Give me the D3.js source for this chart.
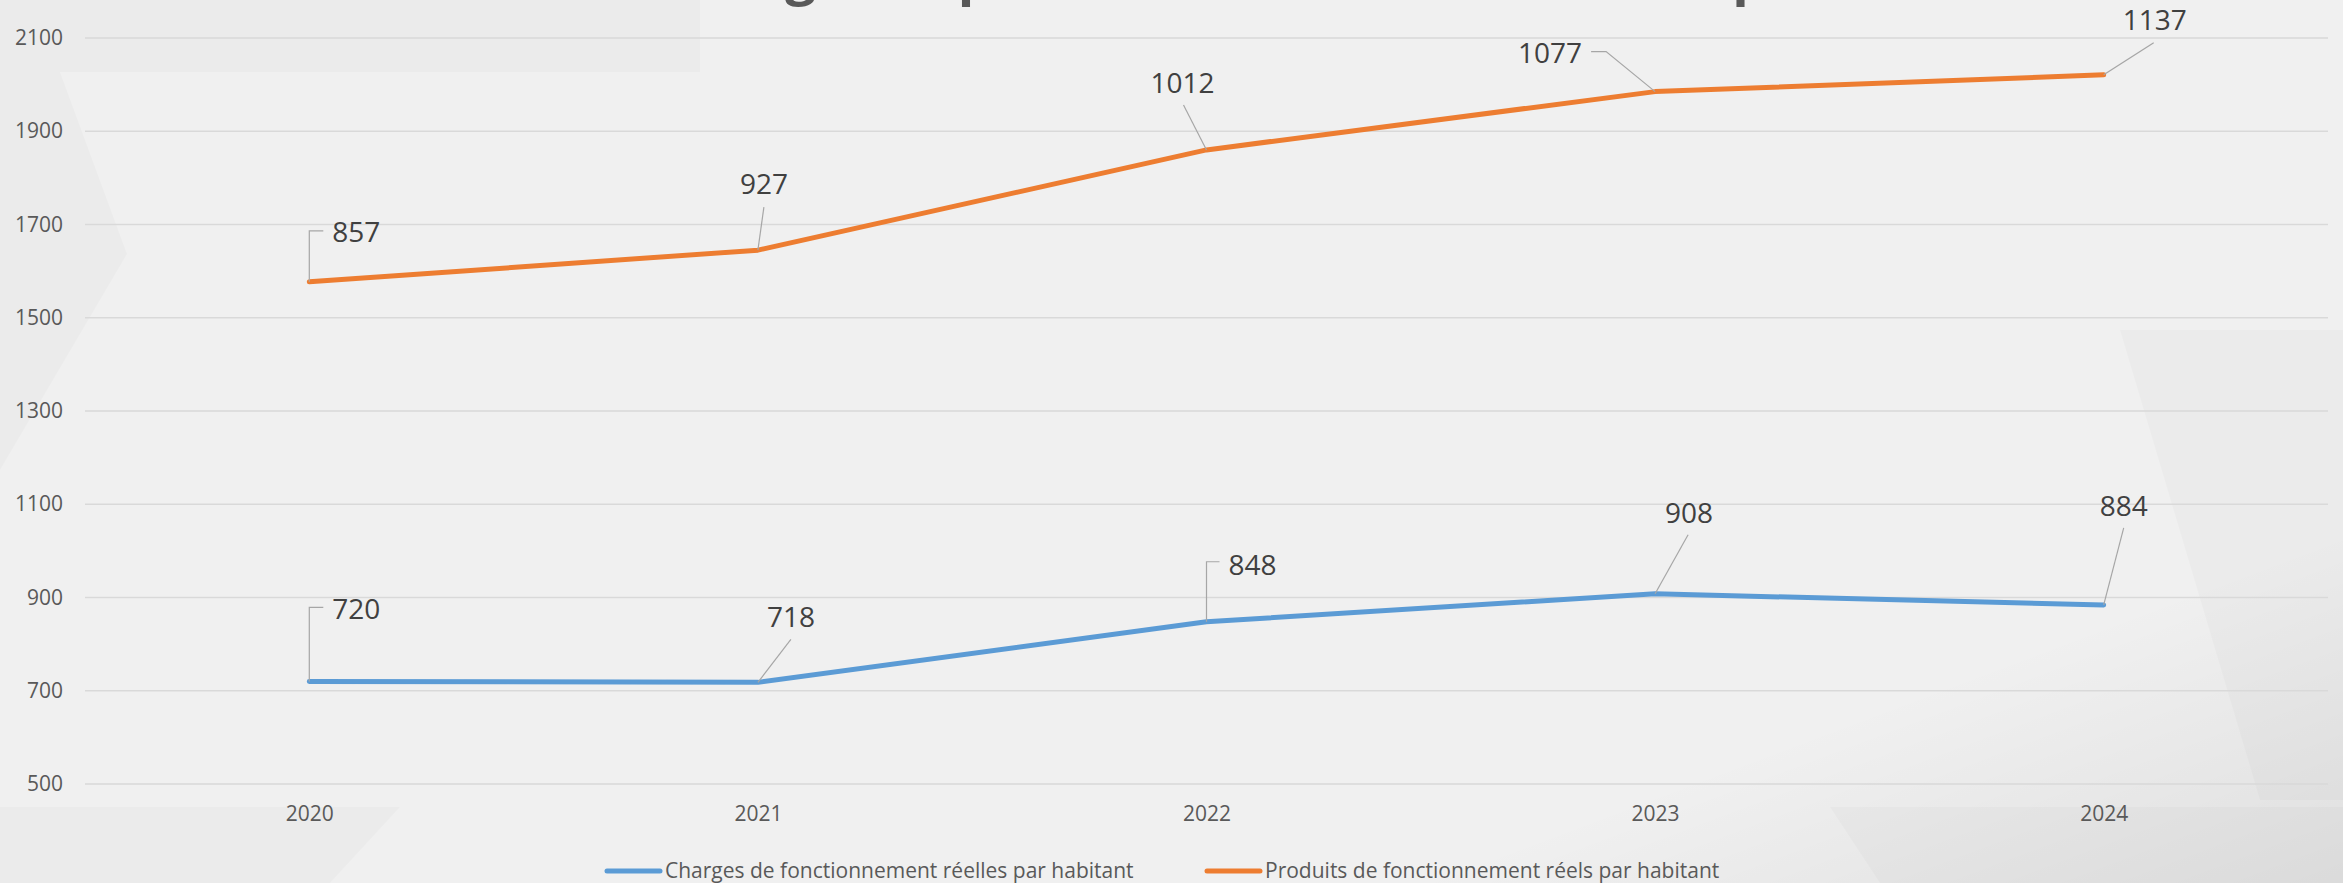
<!DOCTYPE html>
<html>
<head>
<meta charset="utf-8">
<script src="https://cdn.jsdelivr.net/npm/d3@7"></script>
<style>
  html, body { margin: 0; padding: 0; background: #efefef; }
  svg { display: block; font-family: 'Open Sans', sans-serif; }
</style>
</head>
<body>
<svg id="chart" width="2343" height="883"></svg>
<script>
// data
const years = ['2020', '2021', '2022', '2023', '2024'];
const charges = [720, 718, 848, 908, 884];
const produits = [857, 927, 1012, 1077, 1137];
const yTicks = [500, 700, 900, 1100, 1300, 1500, 1700, 1900, 2100];
const seriesNames = [
  'Charges de fonctionnement réelles par habitant',
  'Produits de fonctionnement réels par habitant'
];
const titleText = 'Évolution des charges et produits de fonctionnement par habitant';

const colors = ['#5b9bd5', '#ed7d31'];

// where each data label sits relative to its point (label centre, leader polyline)
const nudges = [
  [ // charges
    { dx: 23, dy: -73, anchor: 'start', leader: [[0, 0], [0, -74], [14, -74]] },
    { dx: 33, dy: -65, anchor: 'middle', leader: [[0, 0], [33, -43]] },
    { dx: 22, dy: -57, anchor: 'start', leader: [[0, 0], [0, -60], [13, -60]] },
    { dx: 34, dy: -81, anchor: 'middle', leader: [[0, 0], [33, -59]] },
    { dx: 20, dy: -99, anchor: 'middle', leader: [[0, 0], [20, -77]] }
  ],
  [ // produits
    { dx: 23, dy: -50, anchor: 'start', leader: [[0, 0], [0, -51], [14, -51]] },
    { dx: 6, dy: -66, anchor: 'middle', leader: [[0, 0], [6, -43]] },
    { dx: -24, dy: -67, anchor: 'middle', leader: [[0, 0], [-23, -45]] },
    { dx: -73, dy: -39, anchor: 'end', leader: [[0, 0], [-49, -40], [-64, -40]] },
    { dx: 51, dy: -55, anchor: 'middle', leader: [[0, 0], [50, -32]] }
  ]
];

const svg = d3.select('#chart');
const W = 2343, H = 883;
const plot = { left: 85, right: 2328, top: 38, bottom: 784 };

// background texture (faint facets like the slide theme)
const bg = svg.append('g');
bg.append('rect').attr('width', W).attr('height', H).attr('fill', '#f0f0f0');
const facets = [
  [[0, 0], [700, 0], [700, 72], [0, 72]],
  [[0, 72], [60, 72], [127, 254], [100, 300], [0, 300]],
  [[0, 300], [100, 300], [0, 470]],
  [[2120, 330], [2343, 330], [2343, 800], [2260, 800]],
  [[0, 807], [400, 807], [330, 883], [0, 883]],
  [[1830, 807], [2343, 807], [2343, 883], [1880, 883]]
];
bg.selectAll('polygon')
  .data(facets)
  .join('polygon')
  .attr('points', (d) => d.map((p) => p.join(',')).join(' '))
  .attr('fill', '#000')
  .attr('fill-opacity', 0.018);
const grad = svg.append('defs').append('linearGradient')
  .attr('id', 'corner').attr('x1', 0).attr('y1', 0).attr('x2', 1).attr('y2', 1);
grad.append('stop').attr('offset', '0.8').attr('stop-color', '#000').attr('stop-opacity', 0);
grad.append('stop').attr('offset', '1').attr('stop-color', '#000').attr('stop-opacity', 0.07);
bg.append('rect').attr('width', W).attr('height', H).attr('fill', 'url(#corner)');

// scales
const x = d3.scalePoint().domain(years).range([plot.left, plot.right]).padding(0.5);
const y = d3.scaleLinear().domain([500, 2100]).range([plot.bottom, plot.top]);

// title, mostly cut off by the top edge as in the source
svg.append('text')
  .attr('x', 1180)
  .attr('y', -6)
  .attr('text-anchor', 'middle')
  .attr('font-weight', 'bold')
  .attr('font-size', 54)
  .attr('fill', '#595959')
  .text(titleText);

// gridlines
svg.append('g')
  .selectAll('line')
  .data(yTicks)
  .join('line')
  .attr('x1', plot.left)
  .attr('x2', plot.right)
  .attr('y1', (d) => y(d))
  .attr('y2', (d) => y(d))
  .attr('stroke', '#d9d9d9')
  .attr('stroke-width', 1.5);

// axes (labels only)
const yAxis = svg.append('g')
  .attr('transform', `translate(${plot.left - 22},0)`)
  .call(d3.axisLeft(y).tickValues(yTicks).tickFormat(d3.format('d')).tickSize(0).tickPadding(0));
const xAxis = svg.append('g')
  .attr('transform', `translate(0,${plot.bottom})`)
  .call(d3.axisBottom(x).tickSize(0).tickPadding(22));
[yAxis, xAxis].forEach((ax) => {
  ax.select('.domain').remove();
  ax.selectAll('text')
    .attr('font-family', "'Open Sans', sans-serif")
    .attr('font-size', 21)
    .attr('fill', '#595959');
});

// stacked values
const table = years.map((yr, i) => ({ year: yr, charges: charges[i], produits: produits[i] }));
const stacked = d3.stack().keys(['charges', 'produits'])(table);

const line = d3.line()
  .x((d) => x(d.data.year))
  .y((d) => y(d[1]));

stacked.forEach((s, si) => {
  svg.append('path')
    .datum(s)
    .attr('d', line)
    .attr('fill', 'none')
    .attr('stroke', colors[si])
    .attr('stroke-width', 5)
    .attr('stroke-linejoin', 'round')
    .attr('stroke-linecap', 'round');
});

// data labels with leader lines
stacked.forEach((s, si) => {
  const g = svg.append('g');
  s.forEach((d, i) => {
    const px = x(d.data.year);
    const py = y(d[1]);
    const n = nudges[si][i];
    g.append('polyline')
      .attr('points', n.leader.map(([a, b]) => `${px + a},${py + b}`).join(' '))
      .attr('fill', 'none')
      .attr('stroke', '#a6a6a6')
      .attr('stroke-width', 1.2);
    g.append('text')
      .attr('x', px + n.dx)
      .attr('y', py + n.dy)
      .attr('dy', '0.36em')
      .attr('text-anchor', n.anchor)
      .attr('font-size', 28)
      .attr('fill', '#404040')
      .text(d.data[s.key]);
  });
});

// legend
const legendItems = [
  { name: seriesNames[0], color: colors[0], x: 607 },
  { name: seriesNames[1], color: colors[1], x: 1207 }
];
const legend = svg.append('g').attr('transform', 'translate(0,871)');
legendItems.forEach((it) => {
  legend.append('line')
    .attr('x1', it.x)
    .attr('x2', it.x + 53)
    .attr('stroke', it.color)
    .attr('stroke-width', 5)
    .attr('stroke-linecap', 'round');
  legend.append('text')
    .attr('x', it.x + 58)
    .attr('dy', '0.35em')
    .attr('font-size', 21)
    .attr('fill', '#595959')
    .text(it.name);
});
</script>
</body>
</html>
